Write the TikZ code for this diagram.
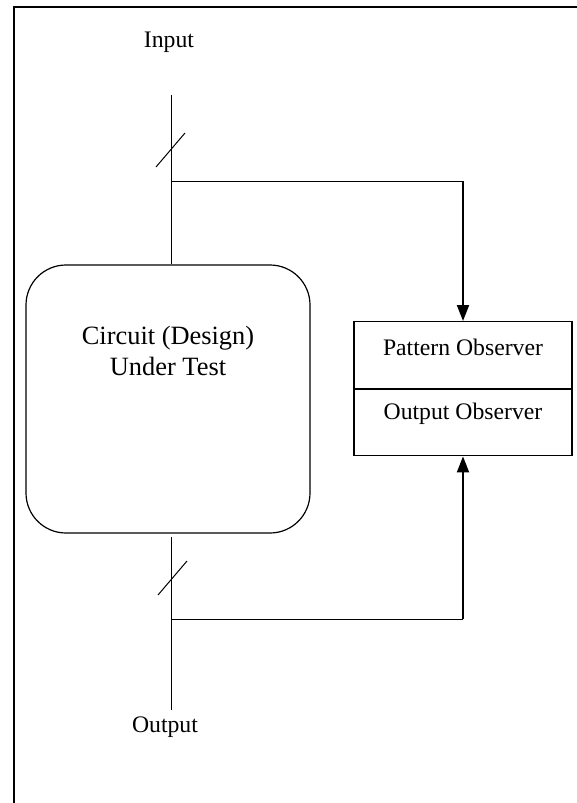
\documentclass[tikz,border=0pt]{standalone}
\usepackage{fontspec}
\setmainfont{Liberation Serif}
\usetikzlibrary{arrows.meta,positioning}

\tikzset{
  wire/.style={line width=1pt},
  feed/.style={line width=2pt, -{Triangle[width=12pt,length=16pt]}},
  cutbox/.style={draw, line width=1.2pt, rounded corners=40pt, minimum width=284pt, minimum height=268pt},
  obsbox/.style={draw, line width=1.2pt, minimum width=218pt, minimum height=66.5pt, inner sep=0pt},
  lbl/.style={font=\fontsize{23.7}{28}\selectfont}
}

\begin{document}
\begin{tikzpicture}[x=1pt, y=-1pt]
    \useasboundingbox (0,0) rectangle (577,803);

    % Frame
    \draw[line width=1.5pt] (14,803) -- (14,7) -- (577,7);

    % Circuit under test
    \node[cutbox] (cut) at (168,399) {};
    \node[align=center, font=\fontsize{26.4}{31.5}\selectfont] (cuttext) at (168,351) {Circuit (Design)\\Under Test};

    % Observers
    \node[obsbox, anchor=north] (pattern) at (463,321) {};
    \node[obsbox, below=0pt of pattern] (observer) {};
    \node[lbl] (pattxt) at ([yshift=7pt]pattern.center) {Pattern Observer};
    \node[lbl] (obstxt) at ([yshift=9pt]observer.center) {Output Observer};

    % Input side
    \node[lbl] (inlbl) at (169,42) {Input};
    \coordinate (intop) at (171,95);
    \coordinate (inbr) at (171,181);
    \draw[wire] (intop) -- (intop |- cut.north);
    \draw[wire] (156,167) -- (185,133);
    \draw[wire] (inbr) -- (inbr -| pattern.north);
    \draw[feed] (inbr -| pattern.north) -- (pattern.north);

    % Output side
    \node[lbl] (outlbl) at (165,727) {Output};
    \coordinate (outtop) at (171,537);
    \coordinate (outbot) at (171,710);
    \coordinate (outbr) at (171,619);
    \draw[wire] (outtop) -- (outbot);
    \draw[wire] (158,595) -- (187,561);
    \draw[wire] (outbr) -- (outbr -| observer.south);
    \draw[feed] (outbr -| observer.south) -- (observer.south);
\end{tikzpicture}
\end{document}
